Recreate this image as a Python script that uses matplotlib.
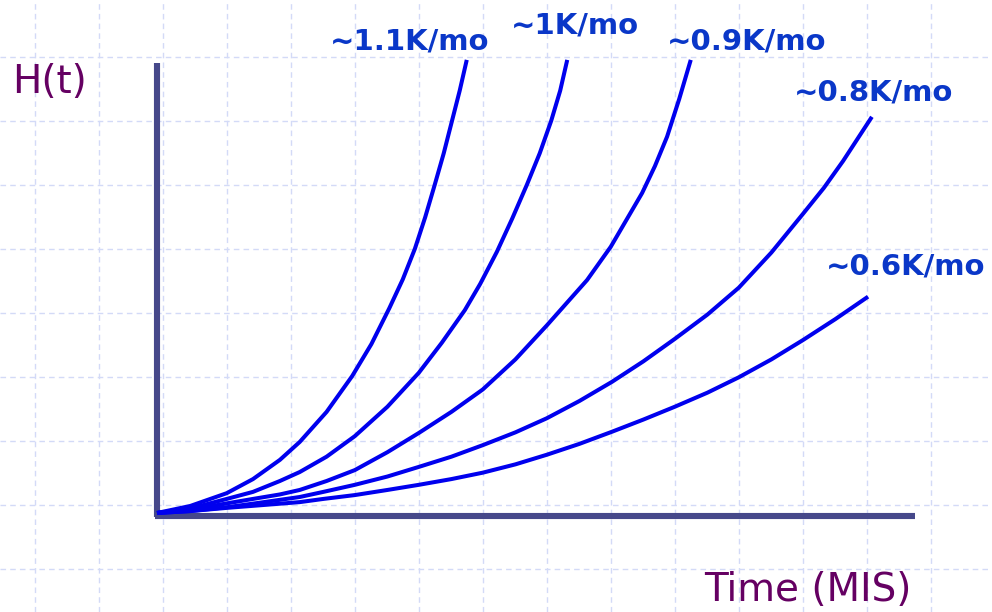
import numpy as np
import matplotlib.pyplot as plt

# growth curves H(t); t and H in grid units (one grid cell = 1)
t_11 = [0, 0.52, 1.09, 1.5, 1.92, 2.23, 2.65, 3.05, 3.35, 3.63, 3.84, 4.03, 4.19, 4.34, 4.48, 4.61, 4.73, 4.84]
h_11 = [0, 0.11, 0.31, 0.53, 0.83, 1.11, 1.58, 2.14, 2.64, 3.20, 3.65, 4.13, 4.62, 5.13, 5.62, 6.13, 6.60, 7.08]

t_10 = [0, 0.52, 1.09, 1.5, 1.92, 2.23, 2.65, 3.09, 3.6, 4.09, 4.45, 4.81, 5.05, 5.31, 5.55, 5.78, 5.98, 6.16, 6.3, 6.41]
h_10 = [0, 0.07, 0.22, 0.33, 0.50, 0.64, 0.88, 1.20, 1.66, 2.19, 2.66, 3.17, 3.58, 4.08, 4.60, 5.13, 5.62, 6.13, 6.60, 7.08]

t_09 = [0, 0.52, 1.09, 1.5, 1.92, 2.23, 2.65, 3.09, 3.6, 4.09, 4.6, 5.09, 5.6, 6.09, 6.72, 7.09, 7.3, 7.58, 7.78, 7.97, 8.16, 8.34]
h_09 = [0, 0.05, 0.15, 0.22, 0.29, 0.36, 0.50, 0.67, 0.95, 1.25, 1.58, 1.93, 2.40, 2.93, 3.64, 4.16, 4.52, 5.00, 5.42, 5.88, 6.47, 7.08]

t_08 = [0, 0.52, 1.09, 1.6, 2.23, 2.6, 3.09, 3.6, 4.09, 4.6, 5.09, 5.6, 6.09, 6.6, 7.11, 7.6, 8.09, 8.6, 9.09, 9.6, 10.09, 10.42, 10.72, 11.17]
h_08 = [0, 0.03, 0.09, 0.16, 0.25, 0.33, 0.44, 0.57, 0.72, 0.88, 1.06, 1.26, 1.48, 1.75, 2.05, 2.37, 2.72, 3.10, 3.52, 4.07, 4.67, 5.08, 5.50, 6.19]

t_06 = [0, 0.52, 1.09, 1.6, 2.23, 2.6, 3.09, 3.6, 4.09, 4.6, 5.09, 5.6, 6.09, 6.6, 7.11, 7.6, 8.09, 8.6, 9.09, 9.6, 10.09, 10.6, 11.11]
h_06 = [0, 0.03, 0.08, 0.12, 0.17, 0.22, 0.28, 0.36, 0.44, 0.53, 0.63, 0.76, 0.91, 1.08, 1.27, 1.46, 1.66, 1.88, 2.12, 2.40, 2.70, 3.03, 3.38]

rates = ["~1.1K/mo", "~1K/mo", "~0.9K/mo", "~0.8K/mo", "~0.6K/mo"]

curves = [(t_11, h_11), (t_10, h_10), (t_09, h_09), (t_08, h_08), (t_06, h_06)]
label_xy = [(3.95, 7.24), (6.53, 7.50), (9.22, 7.24), (11.20, 6.45), (11.69, 3.72)]

fig = plt.figure(figsize=(9.92, 6.12), dpi=100)
ax = fig.add_axes([0, 0, 1, 1])

# faint dashed background grid
ax.set_xticks(np.arange(-1.906, 12.6, 1.0))
ax.set_yticks(np.arange(7.125, -1.5, -1.0))
ax.grid(True, color="#d3daf7", linestyle=(0, (4, 3)), linewidth=1.0)
ax.tick_params(length=0, labelbottom=False, labelleft=False)
for s in ax.spines.values():
    s.set_visible(False)
ax.set_axisbelow(True)

ax.set_xlim(-157 / 64, (992 - 157) / 64)
ax.set_ylim((513 - 612) / 64, 513 / 64)

# axes drawn as thick bars
axis_col = "#46488a"
ax.plot([0, 0], [-0.06, 7.03], color=axis_col, lw=4.4, solid_capstyle="butt", zorder=2)
ax.plot([-0.03, 11.84], [-0.04, -0.04], color=axis_col, lw=4.4, solid_capstyle="butt", zorder=2)

for (t, h), lab, (lx, ly) in zip(curves, rates, label_xy):
    ax.plot(t, h, color="#0000ee", lw=2.9, solid_capstyle="butt", solid_joinstyle="round", zorder=3)
    ax.text(lx, ly, lab, color="#0a37c8", fontsize=21, fontweight="bold",
            ha="center", va="baseline", family="DejaVu Sans")

purple = "#650062"
ax.text((12 - 157) / 64, (513 - 93) / 64, "H(t)", color=purple, fontsize=28,
        ha="left", va="baseline")
ax.text((912 - 157) / 64, (513 - 601) / 64, "Time (MIS)", color=purple, fontsize=28,
        ha="right", va="baseline")

fig.savefig("out.png", dpi=100, facecolor="white")
